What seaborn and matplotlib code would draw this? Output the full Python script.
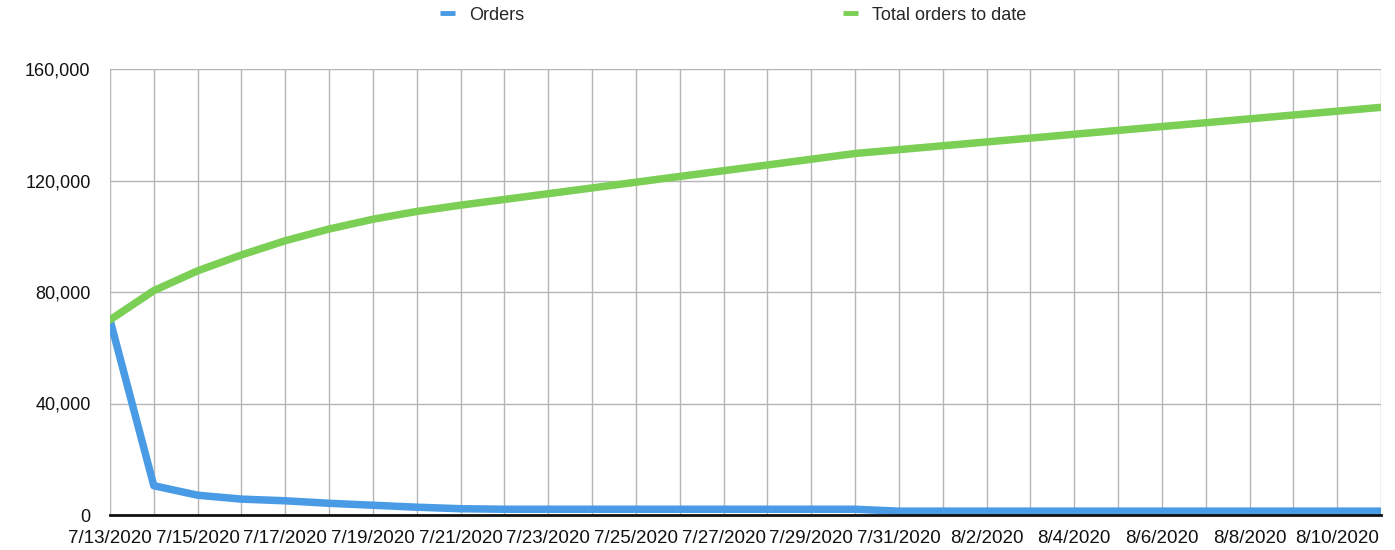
import matplotlib
matplotlib.use("Agg")
import matplotlib.pyplot as plt
import matplotlib.dates as mdates
from matplotlib.ticker import FuncFormatter, FixedLocator
from matplotlib.lines import Line2D
import seaborn as sns
import pandas as pd

dates = ["7/13/2020", "7/14/2020", "7/15/2020", "7/16/2020", "7/17/2020", "7/18/2020",
         "7/19/2020", "7/20/2020", "7/21/2020", "7/22/2020", "7/23/2020", "7/24/2020",
         "7/25/2020", "7/26/2020", "7/27/2020", "7/28/2020", "7/29/2020", "7/30/2020",
         "7/31/2020", "8/1/2020", "8/2/2020", "8/3/2020", "8/4/2020", "8/5/2020",
         "8/6/2020", "8/7/2020", "8/8/2020", "8/9/2020", "8/10/2020", "8/11/2020"]

orders = [70000, 10500, 7100, 5700, 5100, 4200, 3500, 2800, 2250, 2060,
          2060, 2060, 2060, 2060, 2060, 2060, 2060, 2060, 1380, 1380,
          1380, 1380, 1380, 1380, 1380, 1380, 1380, 1380, 1380, 1380]

total_orders = [70000, 80500, 87600, 93300, 98400, 102600, 106100, 108900, 111150, 113210,
                115270, 117330, 119390, 121450, 123510, 125570, 127630, 129690, 131070, 132450,
                133830, 135210, 136590, 137970, 139350, 140730, 142110, 143490, 144870, 146250]

x_tick_labels = ["7/13/2020", "7/15/2020", "7/17/2020", "7/19/2020", "7/21/2020", "7/23/2020",
                 "7/25/2020", "7/27/2020", "7/29/2020", "7/31/2020", "8/2/2020", "8/4/2020",
                 "8/6/2020", "8/8/2020", "8/10/2020"]
y_ticks = [0, 40000, 80000, 120000, 160000]

series_names = ["Orders", "Total orders to date"]
colors = ["#4A9BE6", "#7BCF55"]

sns.set_style("white")
plt.rcParams["font.family"] = ["Liberation Sans", "DejaVu Sans"]

dt = pd.to_datetime(dates, format="%m/%d/%Y")
df = pd.DataFrame({
    "date": list(dt) * 2,
    "value": orders + total_orders,
    "series": [series_names[0]] * len(dates) + [series_names[1]] * len(dates),
})

fig = plt.figure(figsize=(13.95, 5.5), dpi=100)
ax = fig.add_axes([110 / 1395, 1 - 515 / 550, (1381 - 110) / 1395, (515 - 69) / 550])

sns.lineplot(data=df, x="date", y="value", hue="series", hue_order=series_names,
             palette=colors, linewidth=5.4, ax=ax, legend=False, zorder=3)

ax.set_xlim(dt[0], dt[-1])
ax.set_ylim(0, 160000)

# vertical gridlines for every day, labels every two days
ax.xaxis.set_minor_locator(FixedLocator(mdates.date2num(dt)))
tick_dt = pd.to_datetime(x_tick_labels, format="%m/%d/%Y")
ax.set_xticks(mdates.date2num(tick_dt))
ax.set_xticklabels(x_tick_labels)
ax.set_yticks(y_ticks)
ax.yaxis.set_major_formatter(FuncFormatter(lambda v, p: f"{int(v):,}"))

ax.grid(True, which="both", axis="x", color="#b5b5b5", linewidth=1.0, zorder=0)
ax.grid(True, which="major", axis="y", color="#b5b5b5", linewidth=1.0, zorder=0)
ax.set_axisbelow(True)

ax.tick_params(axis="both", which="both", length=0, colors="#111111")
ax.tick_params(axis="y", pad=14, labelsize=13)
ax.tick_params(axis="x", pad=11, labelsize=13.5)

for s in ["left", "top", "right"]:
    ax.spines[s].set_visible(False)
ax.spines["bottom"].set_color("#111111")
ax.spines["bottom"].set_linewidth(2.0)
ax.spines["bottom"].set_zorder(4)
ax.set_xlabel("")
ax.set_ylabel("")

# legend at top
handles = [Line2D([], [], color=c, linewidth=3.5, solid_capstyle="butt") for c in colors]
leg = fig.legend(handles, series_names, loc="center left", bbox_to_anchor=(440 / 1395, 1 - 15 / 550),
                 ncol=2, frameon=False, fontsize=13, handlelength=0.85, handletextpad=0.75,
                 columnspacing=17.65, borderpad=0, borderaxespad=0)

fig.savefig("out.png", dpi=100, facecolor="white")
